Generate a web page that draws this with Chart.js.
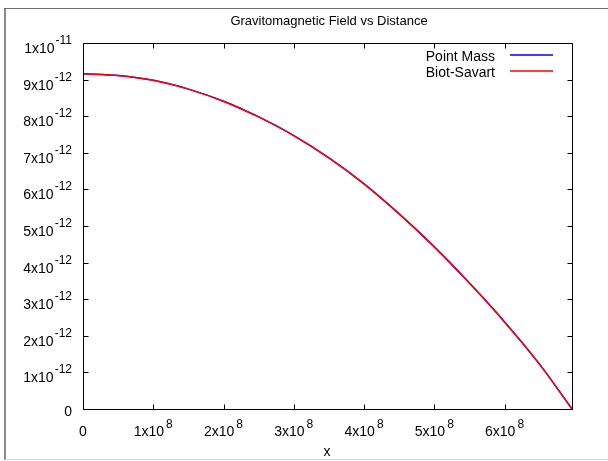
<!DOCTYPE html>
<html>
<head>
<meta charset="utf-8">
<script src="https://cdn.jsdelivr.net/npm/chart.js@4/dist/chart.umd.min.js"></script>
<style>
    body { margin: 0; background: #ffffff; }
    canvas { display: block; }
</style>
</head>
<body>
<canvas id="fieldChart" width="608" height="461"></canvas>
<script>
// Données
const distances = [0, 0.5e8, 1e8, 1.5e8, 2e8, 2.5e8, 3e8, 3.5e8, 4e8, 4.5e8, 5e8, 5.5e8, 6e8, 6.5e8, 6.96e8];
const pointMass = [9.16e-12, 9.11e-12, 8.98e-12, 8.74e-12, 8.41e-12, 7.98e-12, 7.47e-12, 6.86e-12, 6.15e-12, 5.33e-12, 4.43e-12, 3.44e-12, 2.38e-12, 1.22e-12, 0];
const biotSavart = [9.16e-12, 9.11e-12, 8.98e-12, 8.74e-12, 8.41e-12, 7.98e-12, 7.47e-12, 6.86e-12, 6.15e-12, 5.33e-12, 4.43e-12, 3.44e-12, 2.38e-12, 1.22e-12, 0];

const seriesLabels = ['Point Mass', 'Biot-Savart'];
const seriesColors = ['#0000ff', '#ff0000'];

const xTicks = [0, 1e8, 2e8, 3e8, 4e8, 5e8, 6e8];
const xTickBase = ['0', '1x10', '2x10', '3x10', '4x10', '5x10', '6x10'];
const xTickExp = ['', '8', '8', '8', '8', '8', '8'];

const yTicks = [0, 1e-12, 2e-12, 3e-12, 4e-12, 5e-12, 6e-12, 7e-12, 8e-12, 9e-12, 1e-11];
const yTickBase = ['0', '1x10', '2x10', '3x10', '4x10', '5x10', '6x10', '7x10', '8x10', '9x10', '1x10'];
const yTickExp = ['', '-12', '-12', '-12', '-12', '-12', '-12', '-12', '-12', '-12', '-11'];

const chartTitle = 'Gravitomagnetic Field vs Distance';
const xTitle = 'x';

const FONT = '"Liberation Sans", Arial, sans-serif';
const EXP_FONT = '12px ' + FONT;
const BASE_FONT = '14px ' + FONT;

// Cadre, axes, graduations, légende (style gnuplot)
const gnuplotDecor = {
    id: 'gnuplotDecor',
    beforeDraw(chart) {
        const ctx = chart.ctx;
        ctx.save();
        ctx.fillStyle = '#ffffff';
        ctx.fillRect(0, 0, chart.width, chart.height);
        // cadre extérieur
        ctx.strokeStyle = '#8a8a8a';
        ctx.lineWidth = 2;
        ctx.beginPath();
        ctx.moveTo(5, 8);
        ctx.lineTo(5, 460);
        ctx.stroke();
        ctx.strokeStyle = '#6e6e6e';
        ctx.lineWidth = 1;
        ctx.beginPath();
        ctx.moveTo(4, 8.5);
        ctx.lineTo(608, 8.5);
        ctx.stroke();
        ctx.strokeStyle = '#d4d4d4';
        ctx.beginPath();
        ctx.moveTo(5, 459.5);
        ctx.lineTo(608, 459.5);
        ctx.stroke();
        ctx.restore();
    },
    afterDraw(chart) {
        const ctx = chart.ctx;
        const area = chart.chartArea;
        const xs = chart.scales.x;
        const ys = chart.scales.y;
        const L = Math.round(area.left) + 0.5;
        const R = Math.round(area.right) + 0.5;
        const T = Math.round(area.top) + 0.5;
        const B = Math.round(area.bottom) + 0.5;
        const tickLen = 5;
        ctx.save();
        ctx.strokeStyle = '#000000';
        ctx.lineWidth = 1;
        ctx.strokeRect(L, T, R - L, B - T);

        ctx.beginPath();
        xTicks.forEach((v) => {
            const px = Math.round(xs.getPixelForValue(v)) + 0.5;
            ctx.moveTo(px, B); ctx.lineTo(px, B - tickLen);
            ctx.moveTo(px, T); ctx.lineTo(px, T + tickLen);
        });
        yTicks.forEach((v) => {
            const py = Math.round(ys.getPixelForValue(v)) + 0.5;
            ctx.moveTo(L, py); ctx.lineTo(L + tickLen, py);
            ctx.moveTo(R, py); ctx.lineTo(R - tickLen, py);
        });
        ctx.stroke();

        ctx.fillStyle = '#000000';
        ctx.textAlign = 'left';
        ctx.textBaseline = 'alphabetic';

        // étiquettes de l'axe y
        yTicks.forEach((v, i) => {
            const py = ys.getPixelForValue(v);
            ctx.font = EXP_FONT;
            const expW = yTickExp[i] ? ctx.measureText(yTickExp[i]).width : 0;
            ctx.font = BASE_FONT;
            const baseW = ctx.measureText(yTickBase[i]).width;
            const right = 72;
            if (yTickExp[i]) {
                ctx.fillText(yTickBase[i], right - expW - 1 - baseW, py + 10);
                ctx.font = EXP_FONT;
                ctx.fillText(yTickExp[i], right - expW, py + 1);
            } else {
                ctx.fillText(yTickBase[i], right - baseW, py + 7);
            }
        });

        // étiquettes de l'axe x
        xTicks.forEach((v, i) => {
            const px = xs.getPixelForValue(v);
            ctx.font = EXP_FONT;
            const expW = xTickExp[i] ? ctx.measureText(xTickExp[i]).width : 0;
            ctx.font = BASE_FONT;
            const baseW = ctx.measureText(xTickBase[i]).width;
            const total = baseW + (expW ? expW + 2 : 0);
            const start = px - total / 2;
            ctx.fillText(xTickBase[i], start, B + 26);
            if (xTickExp[i]) {
                ctx.font = EXP_FONT;
                ctx.fillText(xTickExp[i], start + baseW + 2, B + 18);
            }
        });

        // titres
        ctx.textAlign = 'center';
        ctx.font = '13px ' + FONT;
        ctx.fillText(chartTitle, 329, 25);
        ctx.font = BASE_FONT;
        ctx.fillText(xTitle, 327, 456);

        // légende
        ctx.textAlign = 'right';
        ctx.lineWidth = 1.5;
        seriesLabels.forEach((label, i) => {
            const y = 55 + i * 16;
            ctx.fillStyle = '#000000';
            ctx.font = BASE_FONT;
            ctx.fillText(label, 495, y + 6);
            ctx.strokeStyle = seriesColors[i];
            ctx.beginPath();
            ctx.moveTo(510, y);
            ctx.lineTo(553, y);
            ctx.stroke();
        });
        ctx.restore();
    }
};

const ctx = document.getElementById('fieldChart').getContext('2d');
new Chart(ctx, {
    type: 'line',
    data: {
        datasets: [
            {
                label: seriesLabels[0],
                data: distances.map((d, i) => ({ x: d, y: pointMass[i] })),
                borderColor: seriesColors[0],
                borderWidth: 1.5,
                pointRadius: 0,
                cubicInterpolationMode: 'monotone',
                order: 1
            },
            {
                label: seriesLabels[1],
                data: distances.map((d, i) => ({ x: d, y: biotSavart[i] })),
                borderColor: seriesColors[1],
                borderWidth: 1.5,
                pointRadius: 0,
                cubicInterpolationMode: 'monotone',
                order: 0
            }
        ]
    },
    options: {
        responsive: false,
        animation: false,
        layout: { padding: { left: 83, top: 43, right: 36, bottom: 52 } },
        plugins: {
            legend: { display: false },
            title: { display: false },
            tooltip: { enabled: false }
        },
        scales: {
            x: { type: 'linear', min: 0, max: 6.96e8, display: false },
            y: { type: 'linear', min: 0, max: 1e-11, display: false }
        }
    },
    plugins: [gnuplotDecor]
});
</script>
</body>
</html>
